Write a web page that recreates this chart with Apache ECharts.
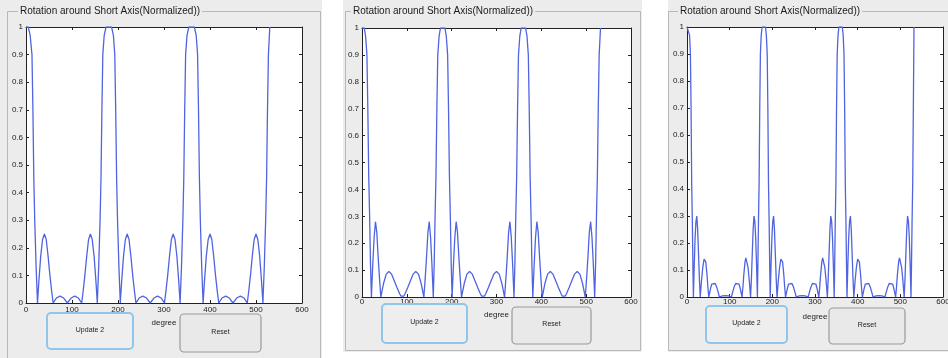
<!DOCTYPE html>
<html>
<head>
<meta charset="utf-8">
<title>Rotation around Short Axis</title>
<script src="https://cdn.jsdelivr.net/npm/echarts@6/dist/echarts.min.js"></script>
<style>
  html, body { margin: 0; padding: 0; background: #ffffff; }
  #chart { width: 948px; height: 358px; }
</style>
</head>
<body>
<div id="chart"></div>
<script>
// Normalized response vs. rotation angle, one trace per panel ([degree, value]).
const curveA = [
  [0,1],[5,1],[9,0.97],[13,0.9],[15,0.7],[17,0.45],[19,0.3],[22,0.13],[25,0],
  [28,0.08],[32,0.17],[36,0.23],[40,0.25],[44,0.23],[48,0.17],[52,0.1],[56,0.04],[59,0],
  [66,0.018],[74,0.025],[82,0.018],[90,0],[98,0.018],[106,0.025],[114,0.018],[121,0],
  [124,0.04],[128,0.1],[132,0.17],[136,0.23],[140,0.25],[144,0.23],[148,0.17],[152,0.08],[155,0],
  [158,0.13],[161,0.3],[163,0.45],[165,0.7],[167,0.9],[170,0.97],[174,1],
  [186,1],[190,0.97],[193,0.9],[195,0.7],[197,0.45],[199,0.3],[202,0.13],[205,0],
  [208,0.08],[212,0.17],[216,0.23],[220,0.25],[224,0.23],[228,0.17],[232,0.1],[236,0.04],[239,0],
  [246,0.018],[254,0.025],[262,0.018],[270,0],[278,0.018],[286,0.025],[294,0.018],[301,0],
  [304,0.04],[308,0.1],[312,0.17],[316,0.23],[320,0.25],[324,0.23],[328,0.17],[332,0.08],[335,0],
  [338,0.13],[341,0.3],[343,0.45],[345,0.7],[347,0.9],[350,0.97],[354,1],
  [366,1],[370,0.97],[373,0.9],[375,0.7],[377,0.45],[379,0.3],[382,0.13],[385,0],
  [388,0.08],[392,0.17],[396,0.23],[400,0.25],[404,0.23],[408,0.17],[412,0.1],[416,0.04],[419,0],
  [426,0.018],[434,0.025],[442,0.018],[450,0],[458,0.018],[466,0.025],[474,0.018],[481,0],
  [484,0.04],[488,0.1],[492,0.17],[496,0.23],[500,0.25],[504,0.23],[508,0.17],[512,0.08],[515,0],
  [518,0.13],[521,0.3],[523,0.45],[525,0.7],[527,0.9],[530,1]
];

const curveB = [
  [0,1],[5,1],[8,0.97],[11,0.9],[13,0.7],[15,0.45],[17,0.3],[19,0.12],[21,0],
  [24,0.12],[27,0.22],[30,0.28],[33,0.24],[36,0.15],[39,0.07],[42,0],
  [48,0.05],[54,0.085],[60,0.095],[66,0.085],[72,0.06],[78,0.035],[84,0.012],[87,0.003],[90,0],
  [93,0.003],[96,0.012],[102,0.035],[108,0.06],[114,0.085],[120,0.095],[126,0.085],[132,0.05],[138,0],
  [141,0.07],[144,0.15],[147,0.24],[150,0.28],[153,0.22],[156,0.12],[159,0],
  [161,0.12],[163,0.3],[165,0.45],[167,0.7],[169,0.9],[172,0.97],[175,1],
  [185,1],[188,0.97],[191,0.9],[193,0.7],[195,0.45],[197,0.3],[199,0.12],[201,0],
  [204,0.12],[207,0.22],[210,0.28],[213,0.24],[216,0.15],[219,0.07],[222,0],
  [228,0.05],[234,0.085],[240,0.095],[246,0.085],[252,0.06],[258,0.035],[264,0.012],[267,0.003],[270,0],
  [273,0.003],[276,0.012],[282,0.035],[288,0.06],[294,0.085],[300,0.095],[306,0.085],[312,0.05],[318,0],
  [321,0.07],[324,0.15],[327,0.24],[330,0.28],[333,0.22],[336,0.12],[339,0],
  [341,0.12],[343,0.3],[345,0.45],[347,0.7],[349,0.9],[352,0.97],[355,1],
  [365,1],[368,0.97],[371,0.9],[373,0.7],[375,0.45],[377,0.3],[379,0.12],[381,0],
  [384,0.12],[387,0.22],[390,0.28],[393,0.24],[396,0.15],[399,0.07],[402,0],
  [408,0.05],[414,0.085],[420,0.095],[426,0.085],[432,0.06],[438,0.035],[444,0.012],[447,0.003],[450,0],
  [453,0.003],[456,0.012],[462,0.035],[468,0.06],[474,0.085],[480,0.095],[486,0.085],[492,0.05],[498,0],
  [501,0.07],[504,0.15],[507,0.24],[510,0.28],[513,0.22],[516,0.12],[519,0],
  [521,0.12],[523,0.3],[525,0.45],[527,0.7],[529,0.9],[532,1]
];

const curveC = [
  [0,1],[4,1],[6,0.97],[8,0.9],[9.5,0.7],[11,0.42],[12.5,0.28],[14,0.1],[15,0],
  [17,0.12],[19,0.22],[21,0.28],[23,0.3],[25,0.25],[27,0.16],[29,0.07],[31,0],
  [34,0.06],[37,0.11],[40,0.14],[42,0.145],[44,0.13],[47,0.08],[49,0.035],[51,0],
  [55,0.03],[58,0.048],[62,0.055],[66,0.05],[70,0.035],[73,0.018],[76,0],
  [83,0.004],[90,0.005],[97,0.004],[104,0],
  [107,0.018],[110,0.035],[114,0.05],[118,0.055],[122,0.048],[125,0.03],[129,0],
  [131,0.035],[133,0.08],[136,0.13],[138,0.145],[140,0.14],[143,0.11],[146,0.06],[149,0],
  [151,0.07],[153,0.16],[155,0.25],[157,0.3],[159,0.28],[161,0.22],[163,0.12],[165,0],
  [166,0.1],[167.5,0.28],[169,0.42],[170.5,0.7],[172,0.9],[174,0.97],[176,1],
  [184,1],[186,0.97],[188,0.9],[189.5,0.7],[191,0.42],[192.5,0.28],[194,0.1],[195,0],
  [197,0.12],[199,0.22],[201,0.28],[203,0.3],[205,0.25],[207,0.16],[209,0.07],[211,0],
  [214,0.06],[217,0.11],[220,0.14],[222,0.145],[224,0.13],[227,0.08],[229,0.035],[231,0],
  [235,0.03],[238,0.048],[242,0.055],[246,0.05],[250,0.035],[253,0.018],[256,0],
  [263,0.004],[270,0.005],[277,0.004],[284,0],
  [287,0.018],[290,0.035],[294,0.05],[298,0.055],[302,0.048],[305,0.03],[309,0],
  [311,0.035],[313,0.08],[316,0.13],[318,0.145],[320,0.14],[323,0.11],[326,0.06],[329,0],
  [331,0.07],[333,0.16],[335,0.25],[337,0.3],[339,0.28],[341,0.22],[343,0.12],[345,0],
  [346,0.1],[347.5,0.28],[349,0.42],[350.5,0.7],[352,0.9],[354,0.97],[356,1],
  [364,1],[366,0.97],[368,0.9],[369.5,0.7],[371,0.42],[372.5,0.28],[374,0.1],[375,0],
  [377,0.12],[379,0.22],[381,0.28],[383,0.3],[385,0.25],[387,0.16],[389,0.07],[391,0],
  [394,0.06],[397,0.11],[400,0.14],[402,0.145],[404,0.13],[407,0.08],[409,0.035],[411,0],
  [415,0.03],[418,0.048],[422,0.055],[426,0.05],[430,0.035],[433,0.018],[436,0],
  [443,0.004],[450,0.005],[457,0.004],[464,0],
  [467,0.018],[470,0.035],[474,0.05],[478,0.055],[482,0.048],[485,0.03],[489,0],
  [491,0.035],[493,0.08],[496,0.13],[498,0.145],[500,0.14],[503,0.11],[506,0.06],[509,0],
  [511,0.07],[513,0.16],[515,0.25],[517,0.3],[519,0.28],[521,0.22],[523,0.12],[525,0],
  [526,0.1],[527.5,0.28],[529,0.42],[530.5,0.7],[532,1]
];

const panelTitle = 'Rotation around Short Axis(Normalized))';
const xAxisName = 'degree';
const buttonLabels = ['Update 2', 'Reset'];
const xRange = [0, 600, 100];
const yRange = [0, 1, 0.1];

const FONT = '"Liberation Sans", Arial, Helvetica, sans-serif';
const LINE_COLOR = '#5064e0';

// Plot boxes for the three panels (labelGap: distance of x tick labels below the axis)
const plots = [
  { left: 26,  top: 27, width: 276, height: 276, labelGap: 3 },
  { left: 362, top: 28, width: 269, height: 269, labelGap: 1 },
  { left: 687, top: 27, width: 256, height: 270, labelGap: 1 }
];
// Panel frames: grey area, etched border, title position
const panels = [
  { bg: [0, 0, 322, 358],   frame: [7, 11, 313, 360],   titleX: 18 },
  { bg: [343, 0, 299, 352], frame: [345, 11, 295, 339], titleX: 351 },
  { bg: [668, 0, 280, 352], frame: [668, 11, 290, 339], titleX: 678 }
];
// Push buttons: [x, y, w, h]
const buttons = [
  [[47, 313, 86, 36], [180, 314, 81, 38]],
  [[382, 304, 85, 39], [512, 307, 79, 37]],
  [[706, 306, 81, 37], [829, 308, 76, 36]]
];
const degreeLabelY = [323, 315, 317];

const curves = [curveA, curveB, curveC];

const grids = [], xAxes = [], yAxes = [], series = [];
const axisLine = { show: true, onZero: false, lineStyle: { color: '#222', width: 1 } };
const tickIn = { show: true, inside: true, length: 3, lineStyle: { color: '#222', width: 1 } };
const labelStyle = { show: true, fontSize: 8, color: '#222', fontFamily: FONT,
  showMinLabel: true, showMaxLabel: true };

plots.forEach((p, i) => {
  grids.push({ left: p.left, top: p.top, width: p.width, height: p.height,
    show: true, backgroundColor: '#ffffff', borderWidth: 0, outerBoundsMode: 'none' });
  xAxes.push({
    type: 'value', gridIndex: i, position: 'bottom',
    min: xRange[0], max: xRange[1], interval: xRange[2],
    axisLine, axisTick: tickIn, splitLine: { show: false },
    axisLabel: Object.assign({}, labelStyle, { margin: p.labelGap })
  });
  xAxes.push({
    type: 'value', gridIndex: i, position: 'top',
    min: xRange[0], max: xRange[1], interval: xRange[2],
    axisLine, axisTick: tickIn, splitLine: { show: false }, axisLabel: { show: false }
  });
  yAxes.push({
    type: 'value', gridIndex: i, position: 'left',
    min: yRange[0], max: yRange[1], interval: yRange[2],
    axisLine, axisTick: tickIn, splitLine: { show: false },
    axisLabel: Object.assign({}, labelStyle, { margin: 3 })
  });
  yAxes.push({
    type: 'value', gridIndex: i, position: 'right',
    min: yRange[0], max: yRange[1], interval: yRange[2],
    axisLine, axisTick: tickIn, splitLine: { show: false }, axisLabel: { show: false }
  });
  series.push({
    type: 'line', xAxisIndex: i * 2, yAxisIndex: i * 2,
    data: curves[i], showSymbol: false, symbol: 'none', animation: false,
    clip: true, lineStyle: { color: LINE_COLOR, width: 1.3 }, z: 5
  });
});

// Panel backgrounds, etched frames, titles, axis names and buttons
const graphics = [];
panels.forEach((pn, i) => {
  graphics.push({ type: 'rect', z: -10, silent: true,
    shape: { x: pn.bg[0], y: pn.bg[1], width: pn.bg[2], height: pn.bg[3] },
    style: { fill: '#ececec' } });
  graphics.push({ type: 'rect', z: -9, silent: true,
    shape: { x: pn.frame[0] + 0.5, y: pn.frame[1] + 0.5, width: pn.frame[2], height: pn.frame[3] },
    style: { fill: null, stroke: '#b8b8b8', lineWidth: 1 } });
  graphics.push({ type: 'text', z: -8, silent: true,
    x: pn.titleX, y: 11,
    style: { text: panelTitle, font: '10px ' + FONT, fill: '#1a1a1a',
      verticalAlign: 'middle', textAlign: 'left',
      backgroundColor: '#ececec', padding: [0, 2, 0, 2] } });
  const p = plots[i];
  graphics.push({ type: 'text', z: 2, silent: true,
    x: p.left + p.width / 2, y: degreeLabelY[i],
    style: { text: xAxisName, font: '8px ' + FONT, fill: '#222',
      textAlign: 'center', verticalAlign: 'middle' } });
  buttons[i].forEach((b, k) => {
    const active = k === 0;
    graphics.push({ type: 'rect', z: 3, silent: true,
      shape: { x: b[0], y: b[1], width: b[2], height: b[3], r: 4 },
      style: { fill: active ? '#eeeeee' : '#e9e9e9',
        stroke: active ? '#8ec6ee' : '#9a9a9a', lineWidth: active ? 2 : 1.2 } });
    graphics.push({ type: 'text', z: 4, silent: true,
      x: b[0] + b[2] / 2, y: b[1] + b[3] / 2 - 1,
      style: { text: buttonLabels[k], font: '7px ' + FONT, fill: '#222',
        textAlign: 'center', verticalAlign: 'middle' } });
  });
});

const chart = echarts.init(document.getElementById('chart'), null, { renderer: 'canvas' });
chart.setOption({
  backgroundColor: '#ffffff',
  animation: false,
  grid: grids,
  xAxis: xAxes,
  yAxis: yAxes,
  series: series,
  graphic: graphics
});
</script>
</body>
</html>
